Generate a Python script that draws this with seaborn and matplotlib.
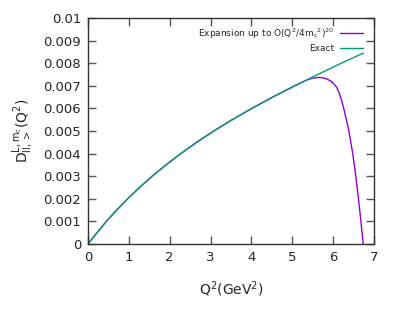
import matplotlib
matplotlib.use("Agg")
import matplotlib.pyplot as plt
import seaborn as sns
import pandas as pd

# Exact curve
exact_q2 = [0.0, 0.22, 0.45, 0.70, 0.97, 1.26, 1.57, 1.91, 2.27, 2.66, 3.08, 3.53, 4.01,
            4.52, 5.06, 5.62, 6.20, 6.74]
exact_d = [0.0, 0.0005, 0.001, 0.0015, 0.002, 0.0025, 0.003, 0.0035, 0.004, 0.0045, 0.005,
           0.0055, 0.006, 0.0065, 0.007, 0.0075, 0.008, 0.00845]

# Expansion up to O(Q^2/4mc^2)^20
exp_q2 = [0.0, 0.22, 0.45, 0.70, 0.97, 1.26, 1.57, 1.91, 2.27, 2.66, 3.08, 3.53, 4.01,
          4.52, 5.06, 5.2, 5.35, 5.5, 5.63, 5.75, 5.85, 5.95, 6.02, 6.08, 6.14, 6.2,
          6.26, 6.32, 6.385, 6.48, 6.555, 6.62, 6.68, 6.735]
exp_d = [0.0, 0.0005, 0.001, 0.0015, 0.002, 0.0025, 0.003, 0.0035, 0.004, 0.0045, 0.005,
         0.0055, 0.006, 0.0065, 0.007, 0.00712, 0.00725, 0.00734, 0.00737, 0.00735, 0.0073,
         0.0072, 0.00708, 0.00695, 0.00672, 0.0064, 0.006, 0.00553, 0.005, 0.004, 0.003,
         0.002, 0.001, 0.0]

xticks = [0, 1, 2, 3, 4, 5, 6, 7]
yticks = [0, 0.001, 0.002, 0.003, 0.004, 0.005, 0.006, 0.007, 0.008, 0.009, 0.01]
ytick_labels = ["0", "0.001", "0.002", "0.003", "0.004", "0.005", "0.006", "0.007", "0.008", "0.009", "0.01"]

label_exp = r"Expansion up to O(Q$^2$/4m$_c$$^2$)$^{20}$"
label_exact = "Exact"

sns.set_style("white")
plt.rcParams["font.family"] = ["DejaVu Sans"]
plt.rcParams["mathtext.default"] = "regular"

fig = plt.figure(figsize=(3.99, 3.19), dpi=100)
ax = fig.add_axes([88/399, 1-244/319, (374-88)/399, (244-18)/319])

df_exp = pd.DataFrame({"q2": exp_q2, "d": exp_d})
df_exact = pd.DataFrame({"q2": exact_q2, "d": exact_d})
sns.lineplot(data=df_exp, x="q2", y="d", ax=ax, color="#9400d3", lw=1, label=label_exp, sort=False)
sns.lineplot(data=df_exact, x="q2", y="d", ax=ax, color="#009e73", lw=1, label=label_exact, sort=False)

ax.set_xlim(0, 7)
ax.set_ylim(0, 0.01)
ax.set_xticks(xticks)
ax.set_xticklabels([str(t) for t in xticks])
ax.set_yticks(yticks)
ax.set_yticklabels(ytick_labels)
ax.tick_params(direction="in", length=6, width=1, color="#555555", labelsize=9.5,
               top=True, right=True, left=True, bottom=True, pad=5)
for s in ax.spines.values():
    s.set_color("#333333")
    s.set_linewidth(1)

ax.set_xlabel(r"Q$^2$(GeV$^2$)", fontsize=10, labelpad=11)
ax.set_ylabel(r"D$^{L,m_c}_{ll,>}$(Q$^2$)", fontsize=10, labelpad=6)

leg = ax.legend(loc="upper right", frameon=False, markerfirst=False, fontsize=6.5,
                handlelength=2.6, handletextpad=0.6, labelspacing=0.4,
                bbox_to_anchor=(0.99, 1.0))

fig.savefig("out.png", dpi=100)
